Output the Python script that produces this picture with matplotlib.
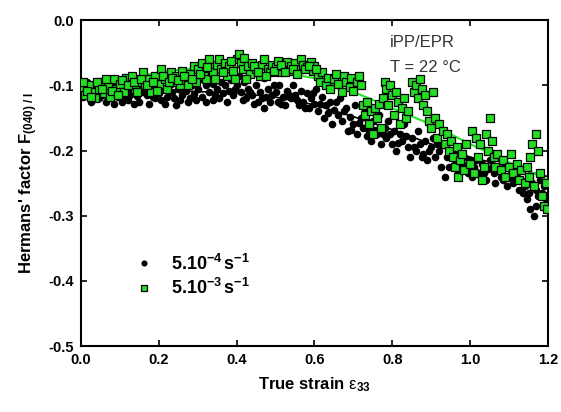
import matplotlib
matplotlib.use('Agg')
from matplotlib import pyplot as plt

plt.rcParams['font.family'] = ['Liberation Sans', 'DejaVu Sans']
plt.rcParams['mathtext.fontset'] = 'custom'
plt.rcParams['mathtext.rm'] = 'Liberation Sans'
plt.rcParams['mathtext.bf'] = 'Liberation Sans:bold'
plt.rcParams['mathtext.it'] = 'Liberation Sans:italic'
plt.rcParams['axes.unicode_minus'] = False

# 5.10-4 s-1 (black dots)
slow_x = [0.00, 0.01, 0.015, 0.02, 0.03, 0.035, 0.04, 0.05, 0.055, 0.06, 0.07, 0.075, 0.08, 0.09, 0.095,
          0.10, 0.11, 0.115, 0.12, 0.13, 0.14, 0.145, 0.15, 0.16, 0.165, 0.17, 0.18, 0.19, 0.195,
          0.20, 0.21, 0.215, 0.22, 0.23, 0.235, 0.24, 0.25, 0.26, 0.265, 0.27, 0.28, 0.285, 0.29,
          0.30, 0.305, 0.31, 0.315, 0.32, 0.325, 0.33, 0.335, 0.34, 0.345, 0.35, 0.36, 0.365, 0.37,
          0.38, 0.385, 0.39, 0.40, 0.405, 0.41, 0.42, 0.425, 0.43, 0.44, 0.45, 0.455, 0.46, 0.47,
          0.475, 0.48, 0.49, 0.50, 0.505, 0.51, 0.52, 0.525, 0.53, 0.54, 0.545, 0.55, 0.56, 0.565,
          0.57, 0.58, 0.585, 0.59, 0.60, 0.605, 0.61, 0.62, 0.625, 0.63, 0.64, 0.645, 0.65, 0.66,
          0.665, 0.67, 0.68, 0.685, 0.69, 0.70, 0.705, 0.71, 0.72, 0.725, 0.73, 0.74, 0.745, 0.75,
          0.76, 0.765, 0.77, 0.78, 0.785, 0.79, 0.80, 0.805, 0.81, 0.82, 0.825, 0.83, 0.84, 0.845,
          0.85, 0.86, 0.865, 0.87, 0.88, 0.885, 0.89, 0.90, 0.905, 0.91, 0.92, 0.925, 0.93, 0.935,
          0.94, 0.95, 0.955, 0.96, 0.97, 0.975, 0.98, 0.99, 1.00, 1.005, 1.01, 1.02, 1.025, 1.03,
          1.04, 1.045, 1.05, 1.06, 1.065, 1.07, 1.075, 1.08, 1.09, 1.095, 1.10, 1.105, 1.11, 1.12,
          1.125, 1.13, 1.14, 1.145, 1.15, 1.155, 1.16, 1.165, 1.17, 1.175, 1.18, 1.185, 1.19, 1.195,
          0.005, 0.025, 0.045, 0.065, 0.085, 0.105, 0.125, 0.135, 0.155, 0.175, 0.185, 0.205, 0.225,
          0.245, 0.255, 0.275, 0.295, 0.32, 0.34, 0.355, 0.375, 0.395, 0.415, 0.435, 0.445, 0.465,
          0.485, 0.495, 0.515, 0.535, 0.555, 0.575, 0.595, 0.615, 0.635, 0.655, 0.675, 0.695, 0.715,
          0.735, 0.755, 0.775, 0.795, 0.815, 0.835, 0.855, 0.875, 0.895, 0.915, 0.945, 0.965, 0.985,
          0.995, 1.015, 1.035, 1.055, 1.085, 1.115, 1.135, 1.17, 1.19, 0.47, 0.78]
slow_y = [-0.105, -0.11, -0.095, -0.115, -0.10, -0.12, -0.105, -0.095, -0.115, -0.108, -0.12, -0.10, -0.112, -0.097, -0.118,
          -0.105, -0.115, -0.098, -0.122, -0.108, -0.10, -0.117, -0.125, -0.11, -0.098, -0.115, -0.105, -0.12, -0.10,
          -0.112, -0.105, -0.128, -0.118, -0.098, -0.11, -0.12, -0.105, -0.115, -0.095, -0.108, -0.12, -0.10, -0.113,
          -0.105, -0.09, -0.118, -0.065, -0.10, -0.062, -0.11, -0.07, -0.098, -0.115, -0.105, -0.095, -0.112, -0.10,
          -0.108, -0.092, -0.115, -0.10, -0.085, -0.11, -0.095, -0.12, -0.105, -0.115, -0.10, -0.125, -0.11, -0.088,
          -0.118, -0.105, -0.115, -0.11, -0.125, -0.10, -0.118, -0.13, -0.108, -0.12, -0.10, -0.115, -0.13, -0.108,
          -0.125, -0.112, -0.135, -0.12, -0.128, -0.105, -0.14, -0.118, -0.15, -0.13, -0.125, -0.16, -0.138, -0.145,
          -0.12, -0.155, -0.135, -0.17, -0.148, -0.16, -0.13, -0.175, -0.15, -0.165, -0.14, -0.17, -0.185, -0.155,
          -0.175, -0.145, -0.19, -0.165, -0.18, -0.155, -0.19, -0.17, -0.20, -0.175, -0.185, -0.16, -0.195, -0.21,
          -0.18, -0.20, -0.17, -0.19, -0.205, -0.185, -0.215, -0.195, -0.18, -0.21, -0.20, -0.225, -0.19, -0.24,
          -0.21, -0.20, -0.225, -0.215, -0.235, -0.205, -0.22, -0.23, -0.215, -0.24, -0.225, -0.21, -0.235, -0.22,
          -0.245, -0.228, -0.215, -0.235, -0.25, -0.205, -0.23, -0.24, -0.225, -0.255, -0.24, -0.23, -0.25, -0.235,
          -0.26, -0.245, -0.255, -0.275, -0.265, -0.29, -0.25, -0.30, -0.26, -0.27, -0.245, -0.265, -0.255, -0.28,
          -0.118, -0.125, -0.12, -0.125, -0.128, -0.125, -0.115, -0.128, -0.105, -0.128, -0.118, -0.122, -0.11,
          -0.13, -0.122, -0.125, -0.122, -0.125, -0.122, -0.12, -0.125, -0.105, -0.122, -0.11, -0.128, -0.12,
          -0.125, -0.10, -0.128, -0.115, -0.122, -0.135, -0.112, -0.128, -0.142, -0.125, -0.14, -0.168, -0.158,
          -0.178, -0.168, -0.175, -0.175, -0.188, -0.178, -0.195, -0.21, -0.20, -0.19, -0.225, -0.20, -0.21,
          -0.235, -0.215, -0.235, -0.225, -0.245, -0.24, -0.265, -0.285, -0.27, -0.135, -0.13]

# 5.10-3 s-1 (green squares)
fast_x = [0.00, 0.01, 0.02, 0.03, 0.035, 0.045, 0.05, 0.06, 0.07, 0.075, 0.085, 0.09, 0.10, 0.11, 0.115,
          0.125, 0.13, 0.14, 0.15, 0.16, 0.165, 0.175, 0.18, 0.19, 0.20, 0.205, 0.215, 0.22, 0.23,
          0.24, 0.245, 0.255, 0.26, 0.27, 0.28, 0.29, 0.295, 0.30, 0.31, 0.315, 0.32, 0.33, 0.335,
          0.34, 0.35, 0.355, 0.36, 0.37, 0.375, 0.38, 0.39, 0.395, 0.40, 0.405, 0.41, 0.415, 0.42,
          0.43, 0.435, 0.44, 0.45, 0.46, 0.465, 0.47, 0.48, 0.485, 0.49, 0.50, 0.505, 0.51, 0.52,
          0.53, 0.535, 0.54, 0.55, 0.56, 0.565, 0.57, 0.58, 0.59, 0.595,
          0.60, 0.61, 0.615, 0.62, 0.63, 0.635, 0.64, 0.65, 0.655, 0.66, 0.67, 0.675, 0.68, 0.69,
          0.695, 0.70, 0.71, 0.715, 0.72, 0.725, 0.73, 0.735, 0.74, 0.745, 0.75, 0.755, 0.76, 0.765,
          0.77, 0.775, 0.78, 0.785, 0.79, 0.795, 0.80, 0.805, 0.81, 0.815, 0.82, 0.825, 0.83, 0.835,
          0.84, 0.85, 0.855, 0.86, 0.865, 0.87, 0.875, 0.88, 0.885, 0.89, 0.895, 0.90, 0.905, 0.91,
          0.915, 0.92, 0.93, 0.935, 0.94, 0.945, 0.95, 0.955, 0.96, 0.965, 0.97, 0.975, 0.98, 0.985,
          0.99, 1.00, 1.005, 1.01, 1.015, 1.02, 1.025, 1.03, 1.035, 1.04, 1.045, 1.05, 1.055, 1.06,
          1.065, 1.07, 1.08, 1.085, 1.09, 1.10, 1.105, 1.11, 1.12, 1.125, 1.13, 1.14, 1.145, 1.15,
          1.155, 1.16, 1.165, 1.17, 1.175, 1.18, 1.185, 1.19, 1.195, 1.198,
          0.005, 0.015, 0.025, 0.04, 0.055, 0.065, 0.08, 0.095, 0.105, 0.12, 0.135, 0.145, 0.155,
          0.17, 0.185, 0.195, 0.21, 0.225, 0.235, 0.25, 0.265, 0.275, 0.285, 0.305, 0.325, 0.345,
          0.365, 0.385, 0.425, 0.445, 0.455, 0.475, 0.495, 0.515, 0.525, 0.545, 0.555, 0.575, 0.585, 0.605]
fast_y = [-0.105, -0.115, -0.10, -0.11, -0.12, -0.105, -0.095, -0.112, -0.10, -0.118, -0.09, -0.105, -0.098, -0.11, -0.088,
          -0.10, -0.085, -0.105, -0.095, -0.08, -0.10, -0.09, -0.11, -0.085, -0.098, -0.075, -0.09, -0.105, -0.08,
          -0.095, -0.085, -0.10, -0.078, -0.092, -0.083, -0.07, -0.095, -0.075, -0.065, -0.085, -0.09, -0.06, -0.072,
          -0.08, -0.068, -0.06, -0.075, -0.065, -0.085, -0.07, -0.078, -0.09, -0.06, -0.052, -0.065, -0.075, -0.058,
          -0.07, -0.082, -0.065, -0.075, -0.085, -0.068, -0.06, -0.075, -0.08, -0.068, -0.072, -0.062, -0.08, -0.07,
          -0.064, -0.078, -0.07, -0.066, -0.075, -0.06, -0.068, -0.072, -0.064, -0.078,
          -0.07, -0.085, -0.095, -0.08, -0.10, -0.088, -0.105, -0.09, -0.082, -0.098, -0.11, -0.085, -0.095, -0.102,
          -0.088, -0.108, -0.095, -0.085, -0.10, -0.13, -0.145, -0.125, -0.16, -0.14, -0.175, -0.135, -0.15, -0.128,
          -0.165, -0.12, -0.095, -0.105, -0.13, -0.10, -0.115, -0.145, -0.11, -0.125, -0.16, -0.135, -0.12, -0.15,
          -0.14, -0.095, -0.11, -0.10, -0.12, -0.09, -0.105, -0.13, -0.115, -0.14, -0.155, -0.165, -0.11, -0.15,
          -0.18, -0.16, -0.17, -0.19, -0.175, -0.20, -0.185, -0.21, -0.225, -0.195, -0.24, -0.215, -0.205, -0.23,
          -0.19, -0.22, -0.17, -0.235, -0.18, -0.21, -0.19, -0.245, -0.225, -0.175, -0.20, -0.15, -0.185, -0.21,
          -0.225, -0.205, -0.23, -0.215, -0.24, -0.225, -0.205, -0.235, -0.22, -0.245, -0.23, -0.25, -0.225, -0.24,
          -0.21, -0.19, -0.255, -0.175, -0.20, -0.235, -0.27, -0.285, -0.25, -0.29,
          -0.095, -0.108, -0.118, -0.095, -0.105, -0.09, -0.108, -0.115, -0.092, -0.10, -0.095, -0.11, -0.09,
          -0.10, -0.095, -0.108, -0.085, -0.095, -0.088, -0.092, -0.085, -0.10, -0.09, -0.082, -0.072, -0.09,
          -0.08, -0.062, -0.09, -0.07, -0.08, -0.085, -0.078, -0.068, -0.08, -0.075, -0.082, -0.075, -0.07, -0.075]

# fitted trend lines
slow_fit_x = [0.0, 0.2, 0.4, 0.5, 0.6, 0.7, 0.8, 0.9, 1.0, 1.1, 1.2]
slow_fit_y = [-0.105, -0.107, -0.112, -0.118, -0.13, -0.148, -0.168, -0.19, -0.21, -0.225, -0.24]
fast_fit_x = [0.0, 0.1, 0.2, 0.3, 0.4, 0.5, 0.6, 0.7, 0.8, 0.9, 1.0, 1.1, 1.2]
fast_fit_y = [-0.105, -0.092, -0.08, -0.073, -0.072, -0.078, -0.089, -0.11, -0.135, -0.16, -0.19, -0.218, -0.245]

fig = plt.figure(figsize=(5.61, 4.12), dpi=100)
ax = fig.add_axes([0.1444, 0.160, 0.8324, 0.791])

ax.plot(slow_fit_x, slow_fit_y, color='black', lw=1.2, zorder=2)
ax.plot(slow_x, slow_y, 'o', color='black', ms=5.5, mew=0, zorder=3,
        label=r'$\mathbf{5.10^{-4}\,s^{-1}}$')
ax.plot(fast_fit_x, fast_fit_y, color='#22e622', lw=1.5, zorder=4)
ax.plot(fast_x, fast_y, 's', color='#22dd22', mec='black', mew=0.9, ms=5.5, zorder=5,
        label=r'$\mathbf{5.10^{-3}\,s^{-1}}$')

ax.set_xlim(0, 1.2)
ax.set_ylim(-0.5, 0.0)
ax.set_xticks([0.0, 0.2, 0.4, 0.6, 0.8, 1.0, 1.2])
ax.set_yticks([0.0, -0.1, -0.2, -0.3, -0.4, -0.5])
ax.set_xticklabels(['0.0', '0.2', '0.4', '0.6', '0.8', '1.0', '1.2'])
ax.set_yticklabels(['0.0', '-0.1', '-0.2', '-0.3', '-0.4', '-0.5'])
ax.tick_params(direction='in', length=4, width=1.2, top=True, right=True, labelsize=10.5, pad=5)
for lab in ax.get_xticklabels() + ax.get_yticklabels():
    lab.set_fontweight('bold')
for sp in ax.spines.values():
    sp.set_linewidth(1.5)

ax.set_xlabel(r'True strain $\mathrm{\varepsilon}_{\mathbf{33}}$', fontsize=12, fontweight='bold', labelpad=6)
ax.set_ylabel(r"Hermans' factor F$_{\mathbf{(040)\ /\ I}}$", fontsize=12, fontweight='bold', labelpad=6)

ax.text(0.794, -0.034, 'iPP/EPR', fontsize=12, color='#333333', va='center')
ax.text(0.794, -0.072, 'T = 22 °C', fontsize=12, color='#333333', va='center')

ax.legend(loc='center left', bbox_to_anchor=(0.08, 0.215), frameon=False, numpoints=1, markerscale=0.8,
          fontsize=13, handlelength=1.0, handletextpad=1.0, labelspacing=0.25)

fig.savefig('out.png', dpi=100)
